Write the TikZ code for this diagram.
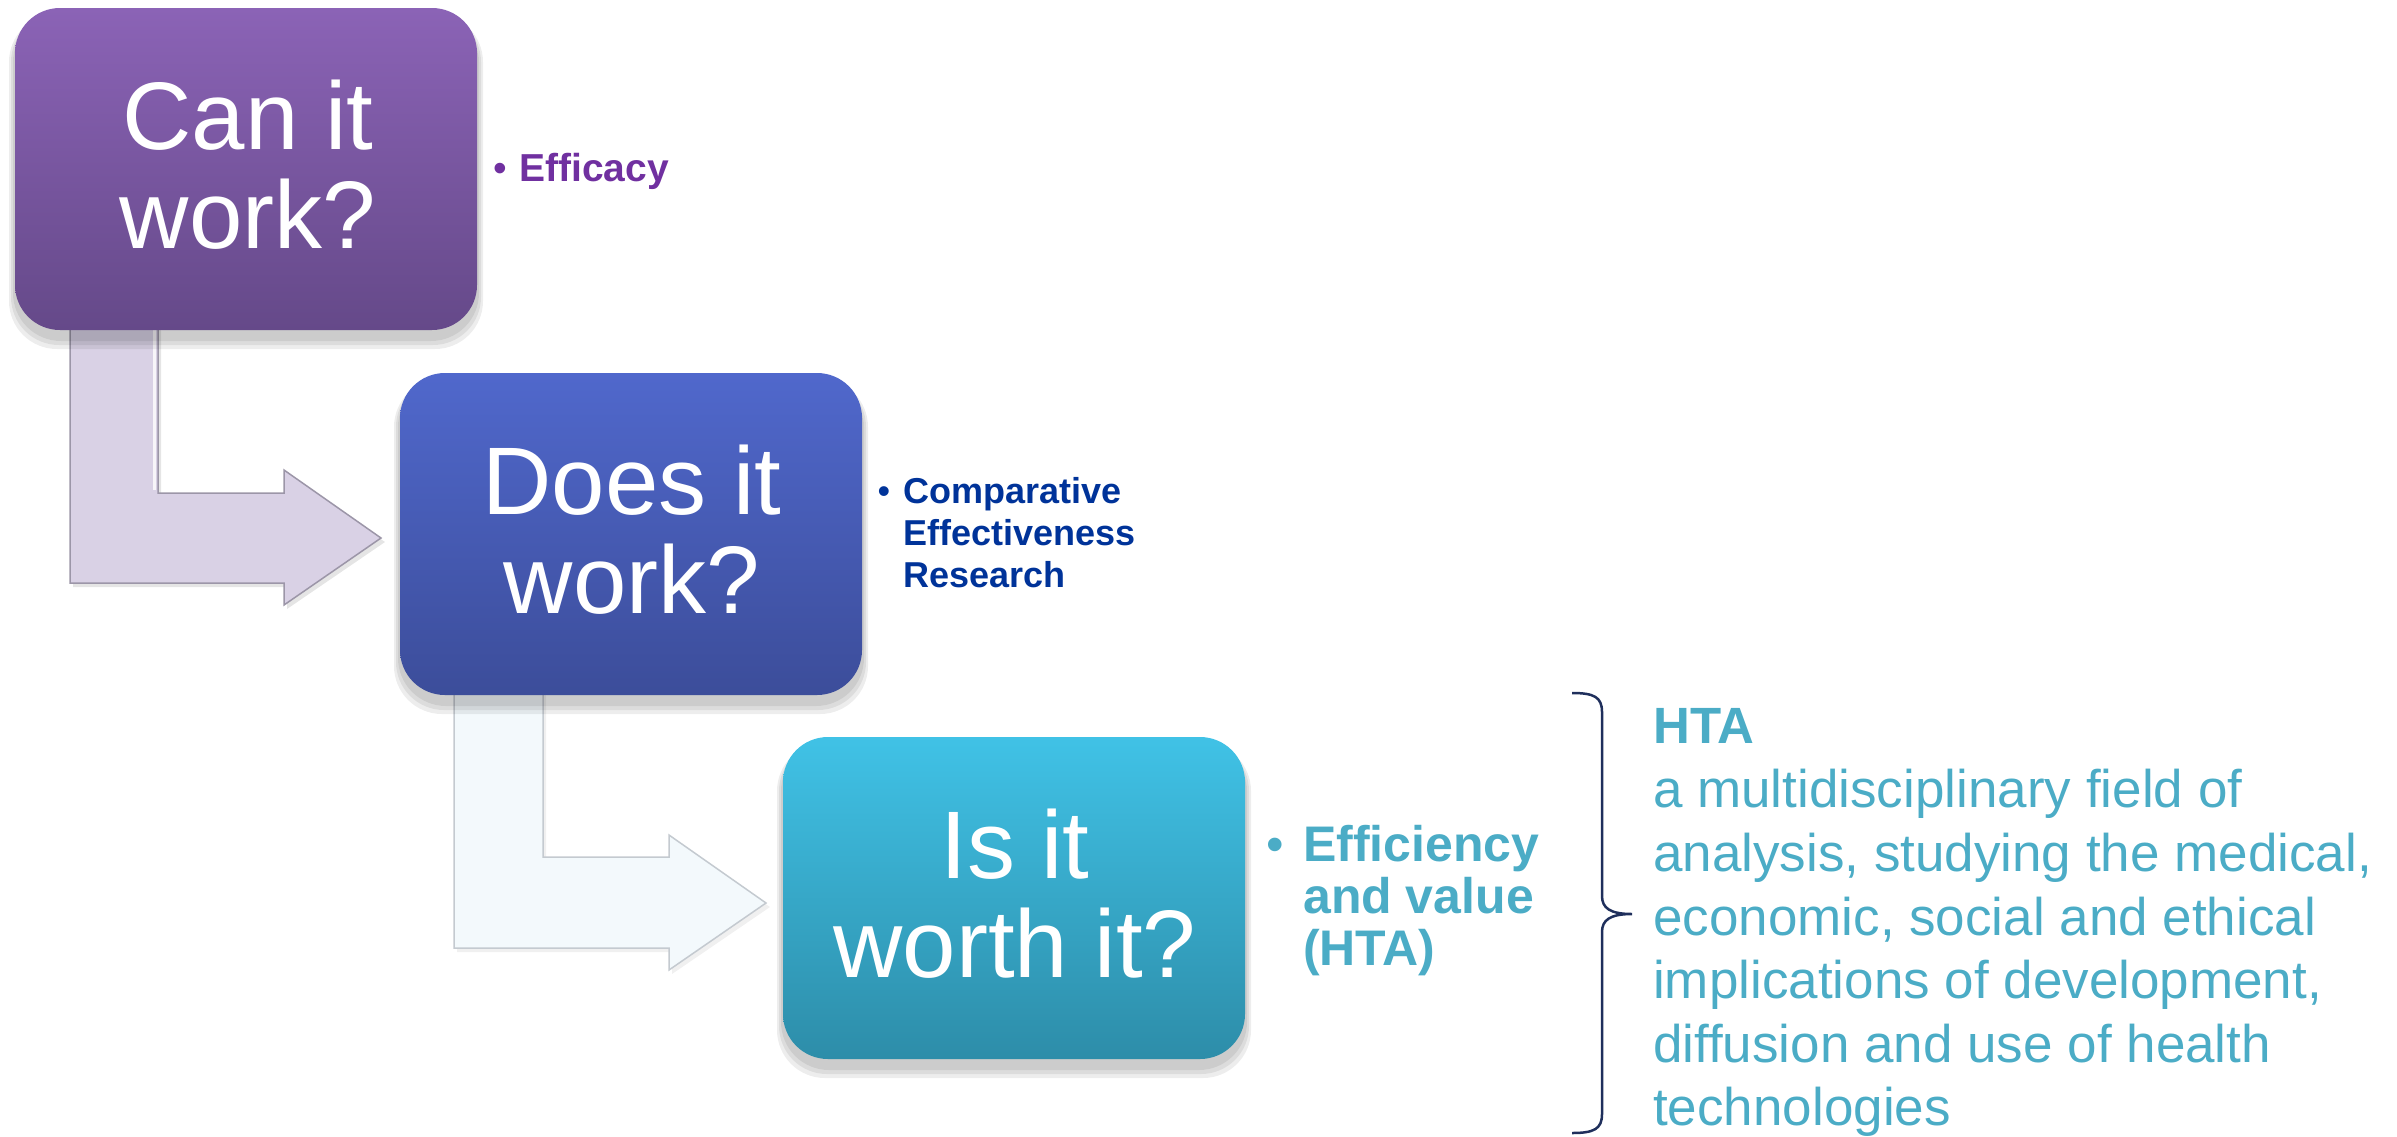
\documentclass[tikz,border=0pt]{standalone}
\usepackage{fontspec}
\setmainfont{Liberation Sans}
\usetikzlibrary{backgrounds}
\definecolor{boxAtop}{HTML}{8B63B6}
\definecolor{boxAbot}{HTML}{654989}
\definecolor{boxBtop}{HTML}{5068CC}
\definecolor{boxBbot}{HTML}{3C4D9A}
\definecolor{boxCtop}{HTML}{40C2E6}
\definecolor{boxCbot}{HTML}{2D8DA9}
\definecolor{arrAfill}{HTML}{D9D1E5}
\definecolor{arrAline}{HTML}{9C96A8}
\definecolor{arrBfill}{HTML}{F3F9FC}
\definecolor{arrBline}{HTML}{C4CAD0}
\definecolor{effcol}{HTML}{7030A0}
\definecolor{cercol}{HTML}{003399}
\definecolor{htacol}{HTML}{4BACC6}
\definecolor{bracecol}{HTML}{1F2F5C}
\begin{document}
\begin{tikzpicture}[x=1pt,y=-1pt,
  qbox/.style={rectangle, rounded corners=45pt, minimum width=462pt, minimum height=322pt, inner sep=0pt},
  boxtext/.style={anchor=base, inner sep=0pt, text=white, font=\fontsize{96}{99}\selectfont},
  shadowbox/.style={fill=black, opacity=0.07, rounded corners=48pt},
  lbl/.style={anchor=base west, inner sep=0pt},
  bul/.style={anchor=base, inner sep=0pt},
  arrowA/.style={fill=arrAfill, draw=arrAline, line width=1.5pt, line join=miter},
  arrowB/.style={fill=arrBfill, draw=arrBline, line width=1.5pt, line join=miter},
]
\useasboundingbox (0,0) rectangle (2397,1136);

% question boxes
\node[qbox, top color=boxAtop, bottom color=boxAbot] (b1) at (246,169) {};
\node[qbox, top color=boxBtop, bottom color=boxBbot] (b2) at (631,534) {};
\node[qbox, top color=boxCtop, bottom color=boxCbot] (b3) at (1014,898) {};

\node[boxtext] (t1a) at (248,149) {Can it};
\node[boxtext] (t1b) at (248,248) {work?};
\node[boxtext] (t2a) at (632,514) {Does it};
\node[boxtext] (t2b) at (632,613) {work?};
\node[boxtext] (t3a) at (1015,878) {Is it};
\node[boxtext] (t3b) at (1015,977) {worth it?};

\begin{scope}[on background layer]
  % bent arrows
  \fill[black, opacity=0.10] (73,300) -- (73,587) -- (287,587) -- (287,609) -- (385,542) -- (287,474) -- (287,497) -- (161,497) -- (161,300) -- cycle;
  \draw[arrowA] (70,300) -- (70,583) -- (284,583) -- (284,605) -- (381,538) -- (284,470) -- (284,493) -- (158,493) -- (158,300) -- cycle;
  \draw[white, line width=3pt, opacity=0.8] (154,320) -- (154,490);
  \fill[black, opacity=0.06] (457,665) -- (457,952) -- (672,952) -- (672,974) -- (770,907) -- (672,839) -- (672,861) -- (546,861) -- (546,665) -- cycle;
  \draw[arrowB] (454,665) -- (454,948) -- (669,948) -- (669,970) -- (766,903) -- (669,835) -- (669,857) -- (543,857) -- (543,665) -- cycle;
  % soft shadows of the boxes
  \foreach \bx/\by in {246/169, 631/534, 1014/898} {
    \fill[shadowbox] (\bx-233,\by-155) rectangle (\bx+233,\by+172);
    \fill[shadowbox] (\bx-235,\by-155) rectangle (\bx+235,\by+176);
    \fill[shadowbox] (\bx-237,\by-155) rectangle (\bx+237,\by+180);
  }
\end{scope}

% side labels
\begin{scope}[font=\fontsize{39}{44}\selectfont\bfseries, text=effcol]
  \node[bul] (e0) at (500,181) {\mdseries •};
  \node[lbl] (e1) at (519,181) {Efficacy};
\end{scope}
\begin{scope}[font=\fontsize{36}{41}\selectfont\bfseries, text=cercol]
  \node[bul] (c0) at (884,503) {\mdseries •};
  \node[lbl] (c1) at (903,503) {Comparative};
  \node[lbl] (c2) at (903,545) {Effectiveness};
  \node[lbl] (c3) at (903,587) {Research};
\end{scope}
\begin{scope}[font=\fontsize{50}{52}\selectfont\bfseries, text=htacol]
  \node[bul] (v0) at (1275,861) {\mdseries •};
  \node[lbl] (v1) at (1303,861) {Efficiency};
  \node[lbl] (v2) at (1303,913) {and value};
  \node[lbl] (v3) at (1303,965) {(HTA)};
\end{scope}

% brace
\draw[bracecol, line width=2.5pt] (1572,693) .. controls (1594,693) and (1602,697) .. (1602,712) -- (1602,896) .. controls (1602,908) and (1610,914) .. (1632,914) .. controls (1610,914) and (1602,920) .. (1602,932) -- (1602,1114) .. controls (1602,1129) and (1594,1133) .. (1572,1133);

% HTA definition
\node[lbl, text=htacol, font=\fontsize{51}{60}\selectfont\bfseries] (h0) at (1653,743) {HTA};
\begin{scope}[font=\fontsize{53}{64}\selectfont, text=htacol]
  \node[lbl] (h1) at (1653,807) {a multidisciplinary field of};
  \node[lbl] (h2) at (1653,871) {analysis, studying the medical,};
  \node[lbl] (h3) at (1653,935) {economic, social and ethical};
  \node[lbl] (h4) at (1653,998) {implications of development,};
  \node[lbl] (h5) at (1653,1062) {diffusion and use of health};
  \node[lbl] (h6) at (1653,1125) {technologies};
\end{scope}
\end{tikzpicture}
\end{document}
